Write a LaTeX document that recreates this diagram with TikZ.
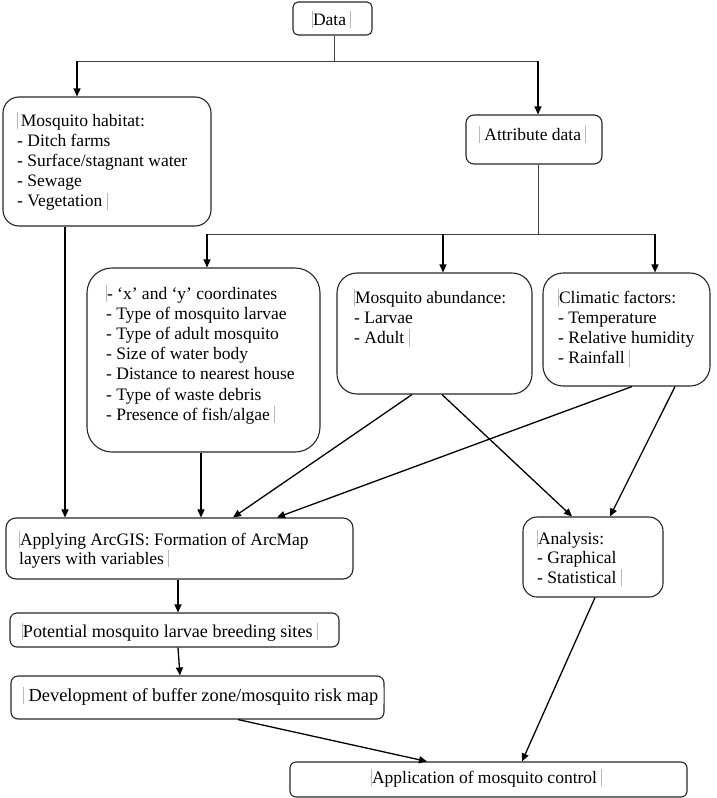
\documentclass[tikz,border=0pt]{standalone}
\usepackage{fontspec}
\setmainfont{Liberation Serif}
\usetikzlibrary{arrows.meta,calc}
\newcommand{\mbar}{\textcolor{gray!55}{\rule[-3pt]{0.8pt}{17pt}}}
\begin{document}
\begin{tikzpicture}[x=1pt,y=-1pt,
 bx/.style={draw=black!85,line width=1.1pt,inner sep=0pt},
 txt/.style={inner sep=0pt,anchor=base west,font=\fontsize{17.5}{20.2}\selectfont},
 ln/.style={draw=black!75,line width=0.9pt},
 arr/.style={draw=black,line width=1.3pt,-{Triangle[length=8pt,width=7pt]}}]
\path[use as bounding box] (0,0) rectangle (716,798);

% boxes
\node[bx,rounded corners=5pt,minimum width=79pt,minimum height=33pt] (data) at (332.5,18.5) {};
\node[bx,rounded corners=16pt,minimum width=208pt,minimum height=129pt] (hab) at (107,161.5) {};
\node[bx,rounded corners=8pt,minimum width=136pt,minimum height=49pt] (attr) at (534,139.5) {};
\node[bx,rounded corners=25pt,minimum width=233pt,minimum height=184pt] (coords) at (203.5,360) {};
\node[bx,rounded corners=20pt,minimum width=195pt,minimum height=121pt] (abund) at (434.5,333.5) {};
\node[bx,rounded corners=20pt,minimum width=167pt,minimum height=113pt] (clim) at (626.5,329.5) {};
\node[bx,rounded corners=10pt,minimum width=347pt,minimum height=61pt] (arcgis) at (179.5,548.5) {};
\node[bx,rounded corners=14pt,minimum width=140pt,minimum height=80pt] (analysis) at (593,557) {};
\node[bx,rounded corners=7pt,minimum width=329pt,minimum height=34pt] (potential) at (174.5,630) {};
\node[bx,rounded corners=7pt,minimum width=373pt,minimum height=43pt] (develop) at (197.5,697.5) {};
\node[bx,rounded corners=6pt,minimum width=397pt,minimum height=35pt] (app) at (488.5,779.5) {};

% texts
\node[txt] (datat) at (312,25) {\mbar Data \mbar};
\node[txt] (habt) at (17,126) {\parbox[t]{200pt}{\raggedright\mbar\,Mosquito habitat:\\- Ditch farms\\- Surface/stagnant water\\- Sewage\\- Vegetation \mbar}};
\node[txt] (attrt) at (479,140) {\mbar{} Attribute data \mbar};
\node[txt] (coordst) at (106,299) {\parbox[t]{220pt}{\raggedright\mbar- ‘x’ and ‘y’ coordinates\\- Type of mosquito larvae\\- Type of adult mosquito\\- Size of water body\\- Distance to nearest house\\- Type of waste debris\\- Presence of fish/algae \mbar}};
\node[txt] (abundt) at (354,303) {\parbox[t]{180pt}{\raggedright\mbar Mosquito abundance:\\- Larvae\\- Adult \mbar}};
\node[txt] (climt) at (558,303) {\parbox[t]{160pt}{\raggedright\mbar Climatic factors:\\- Temperature\\- Relative humidity\\- Rainfall \mbar}};
\node[txt] (arcgist) at (19,545) {\parbox[t]{330pt}{\raggedright\mbar Applying ArcGIS: Formation of ArcMap\\[-1pt]layers with variables \mbar}};
\node[txt] (analysist) at (537,544) {\parbox[t]{130pt}{\raggedright\mbar Analysis:\\[-1pt]- Graphical\\- Statistical \mbar}};
\node[txt,font=\fontsize{18.1}{20}\selectfont] (potentialt) at (22,637) {\mbar Potential mosquito larvae breeding sites \mbar};
\node[txt,font=\fontsize{18.4}{20}\selectfont] (developt) at (23,701) {\mbar{} Development of buffer zone/mosquito risk map \mbar};
\node[txt] (appt) at (371,783) {\mbar Application of mosquito control \mbar};

% tree connectors
\coordinate (j1) at (334,61);
\coordinate (jL) at (77,61);
\coordinate (jR) at (538,61);
\draw[ln] ([xshift=1.5pt]data.south) -- (j1);
\draw[ln] (jL) -- (jR);
\draw[arr] (jL) -- ([xshift=-30pt]hab.north);
\draw[arr] (jR) -- ([xshift=4pt]attr.north);

\coordinate (j2) at (538,234);
\coordinate (kL) at (207,234);
\coordinate (kM) at (443,234);
\coordinate (kR) at (655,234);
\draw[ln] ([xshift=4pt]attr.south) -- (j2);
\draw[ln] (kL) -- (kR);
\draw[arr] (kL) -- ([xshift=3.5pt]coords.north);
\draw[arr] (kM) -- ([xshift=8.5pt]abund.north);
\draw[arr] (kR) -- ([xshift=28.5pt]clim.north);

% flows
\draw[arr] ([xshift=-42pt]hab.south) -- ([xshift=-114.5pt]arcgis.north);
\draw[arr] ([xshift=-2.5pt]coords.south) -- ([xshift=21.5pt]arcgis.north);
\draw[arr] ([xshift=-22.5pt]abund.south) -- ([xshift=53.5pt]arcgis.north);
\draw[arr] ([xshift=7.5pt]abund.south) -- ([xshift=-21pt]analysis.north);
\draw[arr] ([xshift=5.5pt]clim.south) -- ([xshift=97.5pt]arcgis.north);
\draw[arr] ([xshift=48.5pt]clim.south) -- ([xshift=17pt]analysis.north);
\draw[arr] ([xshift=-1.5pt]arcgis.south) -- ([xshift=3.5pt]potential.north);
\draw[arr] ([xshift=3.5pt]potential.south) -- ([xshift=-17.5pt]develop.north);
\draw[arr] ([xshift=40.5pt]develop.south) -- ([xshift=-61.5pt]app.north);
\draw[arr] ([xshift=2pt]analysis.south) -- ([xshift=33.5pt]app.north);
\end{tikzpicture}
\end{document}
